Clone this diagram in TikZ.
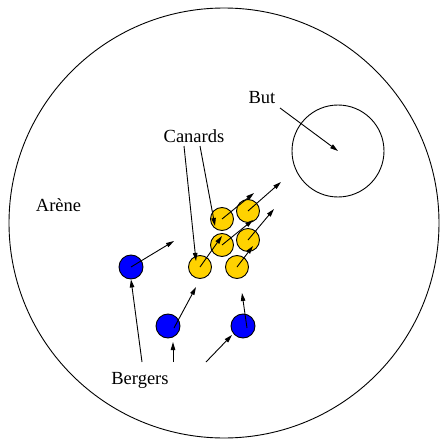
\documentclass[tikz,border=0pt]{standalone}
\usepackage{fontspec}
\setmainfont{Liberation Serif}
\usepackage{tikz}
\usetikzlibrary{arrows.meta}
\definecolor{duckyellow}{RGB}{255,210,0}
\definecolor{dogblue}{RGB}{0,0,255}

\begin{document}
\begin{tikzpicture}[
    x=1pt, y=-1pt,
    canard/.style={circle, draw, fill=duckyellow, minimum size=23pt, inner sep=0pt, line width=0.9pt},
    berger/.style={circle, draw, fill=dogblue, minimum size=24pt, inner sep=0pt, line width=0.9pt},
    lbl/.style={inner sep=0pt, font=\fontsize{18.5}{22}\selectfont},
    arr/.style={-{Triangle[length=8pt, width=4.5pt]}, line width=0.9pt},
]
\useasboundingbox (0,0) rectangle (440,439);

% arena and goal
\node[circle, draw, minimum size=430pt, inner sep=0pt, line width=0.9pt] (arene) at (224,223) {};
\node[circle, draw, minimum size=92pt, inner sep=0pt, line width=0.9pt] (but) at (338,151) {};

% labels
\node[lbl, anchor=base] (lArene) at (58.5,211) {Arène};
\node[lbl, anchor=base] (lBut) at (262,103) {But};
\node[lbl, anchor=base] (lCanards) at (194,142) {Canards};
\node[lbl, anchor=base] (lBergers) at (140,384) {Bergers};

% ducks
\node[canard] (yA) at (200,267) {};
\node[canard] (yB) at (222,219) {};
\node[canard] (yC) at (248,211) {};
\node[canard] (yD) at (222,245) {};
\node[canard] (yE) at (248,240) {};
\node[canard] (yF) at (237,267) {};

% dogs
\node[berger] (bA) at (131,267) {};
\node[berger] (bB) at (168,326) {};
\node[berger] (bC) at (243,326) {};

% heading tips
\coordinate (tA) at (222,236);
\coordinate (tB) at (254,193);
\coordinate (tC) at (281,182);
\coordinate (tD) at (253,220);
\coordinate (tE) at (274,209);
\coordinate (tF) at (253,246);
\coordinate (sA) at (174,241);
\coordinate (sB) at (196,287);
\coordinate (sC) at (242,293);

% pointer tips
\coordinate (pA) at (196,261);
\coordinate (pB) at (215,226);
\coordinate (pC) at (173,342);
\coordinate (pD) at (232,335);

\draw[arr] (yA.center) -- (tA);
\draw[arr] (yB.center) -- (tB);
\draw[arr] (yC.center) -- (tC);
\draw[arr] (yD.center) -- (tD);
\draw[arr] (yE.center) -- (tE);
\draw[arr] (yF.center) -- (tF);
\draw[arr] (bA.center) -- (sA);
\draw[arr] ([xshift=6pt,yshift=-2pt]bB.center) -- (sB);
\draw[arr] ([xshift=4pt,yshift=-2pt]bC.center) -- (sC);

% label pointers
\draw[arr] ([xshift=18pt,yshift=-5pt]lBut.base) -- (but.center);
\draw[arr] ([xshift=-10pt,yshift=-4pt]lCanards.base) -- (pA);
\draw[arr] ([xshift=6pt,yshift=-4pt]lCanards.base) -- (pB);
\draw[arr] ([xshift=2pt,yshift=22pt]lBergers.base) -- (bA.south);
\draw[arr] ([xshift=33pt,yshift=22pt]lBergers.base) -- (pC);
\draw[arr] ([xshift=66pt,yshift=22pt]lBergers.base) -- (pD);
\end{tikzpicture}
\end{document}
